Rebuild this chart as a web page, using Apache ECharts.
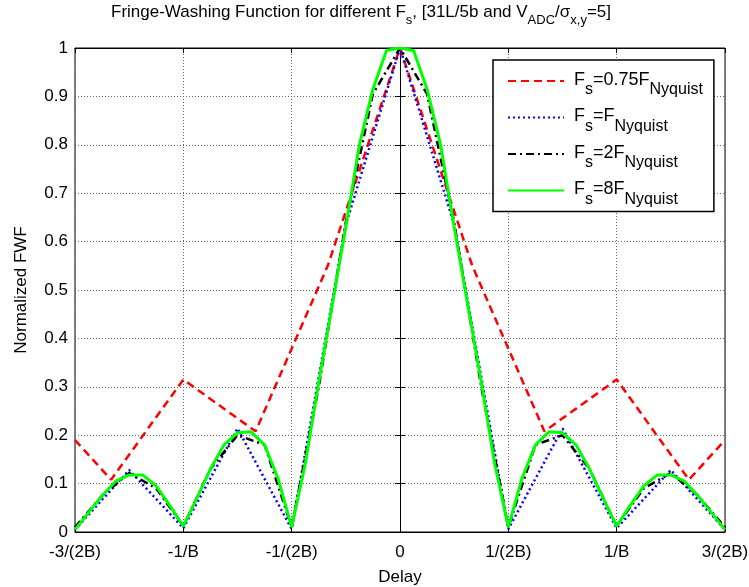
<!DOCTYPE html>
<html>
<head>
<meta charset="utf-8">
<script src="https://cdn.jsdelivr.net/npm/echarts@6/dist/echarts.min.js"></script>
<style>
  html, body { margin: 0; padding: 0; background: #fff; }
  #chart { width: 749px; height: 587px; }
</style>
</head>
<body>
<div id="chart"></div>
<script>
// delay axis in units of 1/(2B)
var xTicks = [-3, -2, -1, 0, 1, 2, 3];
var xTickLabels = ['-3/(2B)', '-1/B', '-1/(2B)', '0', '1/(2B)', '1/B', '3/(2B)'];

// Fs = 0.75 FNyquist
var redX = [-3, -2.667, -2, -1.333, -0.667, 0, 0.667, 1.333, 2, 2.667, 3];
var redY = [0.19, 0.108, 0.315, 0.208, 0.55, 1.0, 0.55, 0.208, 0.315, 0.108, 0.19];

// Fs = FNyquist
var blueX = [-3, -2.5, -2, -1.5, -1, -0.5, 0, 0.5, 1, 1.5, 2, 2.5, 3];
var blueY = [0.005, 0.128, 0.008, 0.214, 0.006, 0.635, 1.0, 0.635, 0.006, 0.214, 0.008, 0.128, 0.005];

// Fs = 2 FNyquist
var blackX = [-3, -2.75, -2.5, -2.25, -2, -1.75, -1.5, -1.25, -1, -0.75, -0.5, -0.25, 0,
              0.25, 0.5, 0.75, 1, 1.25, 1.5, 1.75, 2, 2.25, 2.5, 2.75, 3];
var blackY = [0.01, 0.075, 0.122, 0.09, 0.012, 0.13, 0.2, 0.18, 0.01, 0.3, 0.64, 0.905, 1.0,
              0.905, 0.64, 0.3, 0.01, 0.18, 0.2, 0.13, 0.012, 0.09, 0.122, 0.075, 0.01];

// Fs = 8 FNyquist
var greenX = [-3, -2.875, -2.75, -2.625, -2.5, -2.375, -2.25, -2.125, -2, -1.875, -1.75, -1.625, -1.5,
              -1.375, -1.25, -1.125, -1, -0.875, -0.75, -0.625, -0.5, -0.375, -0.25, -0.125, 0,
              0.125, 0.25, 0.375, 0.5, 0.625, 0.75, 0.875, 1, 1.125, 1.25, 1.375, 1.5,
              1.625, 1.75, 1.875, 2, 2.125, 2.25, 2.375, 2.5, 2.625, 2.75, 2.875, 3];
var greenY = [0.005, 0.04, 0.075, 0.105, 0.118, 0.118, 0.095, 0.055, 0.012, 0.07, 0.13, 0.18, 0.205,
              0.207, 0.18, 0.11, 0.01, 0.14, 0.31, 0.47, 0.63, 0.8, 0.915, 0.995, 1.0,
              0.995, 0.915, 0.8, 0.63, 0.47, 0.31, 0.14, 0.01, 0.11, 0.18, 0.207, 0.205,
              0.18, 0.13, 0.07, 0.012, 0.055, 0.095, 0.118, 0.118, 0.105, 0.075, 0.04, 0.005];

var seriesNames = ['red', 'blue', 'black', 'green'];
var legendLabels = ['0.75F', 'F', '2F', '8F'];

function pairs(xs, ys) {
    var out = [];
    for (var i = 0; i < xs.length; i++) out.push([xs[i], ys[i]]);
    return out;
}

var font = 'Liberation Sans, Arial, sans-serif';
var fs = 17;
function makeRich(mainSize, subSize, drop) {
    return {
        f: { fontSize: mainSize, fontFamily: font, color: '#000', fontWeight: 'normal',
             lineHeight: 20, verticalAlign: 'top', padding: [0, 0, 0, 5] },
        n: { fontSize: mainSize, fontFamily: font, color: '#000', fontWeight: 'normal',
             lineHeight: 20, verticalAlign: 'top' },
        s: { fontSize: subSize, fontFamily: font, color: '#000', fontWeight: 'normal',
             lineHeight: 14, padding: [drop, 0, 0, 0], verticalAlign: 'top' }
    };
}

var myChart = echarts.init(document.getElementById('chart'), null, { renderer: 'canvas' });

var gridLine = { show: true, lineStyle: { color: '#666', type: [1, 2], width: 1 } };
var tickStyle = { show: true, inside: true, length: 5, lineStyle: { color: '#000' } };

var option = {
    animation: false,
    backgroundColor: '#fff',
    title: {
        text: '{n|Fringe-Washing Function for different F}{s|s}{n|, [31L/5b and V}{s|ADC}{n|/σ}{s|x,y}{n|=5]}',
        left: 111,
        top: 4,
        padding: 0,
        textStyle: { rich: makeRich(fs, 13, 10) }
    },
    grid: {
        left: 75, right: 24, top: 48, bottom: 55,
        outerBoundsMode: 'none',
        show: true, borderColor: '#000', borderWidth: 1
    },
    legend: {
        orient: 'vertical',
        left: 493, top: 60,
        padding: [11, 11, 4, 14],
        itemGap: 9.5,
        itemWidth: 56,
        itemHeight: 14,
        borderColor: '#000', borderWidth: 1.5,
        backgroundColor: '#fff',
        itemStyle: { opacity: 0 },
        data: seriesNames,
        formatter: function (name) {
            var i = seriesNames.indexOf(name);
            return '{f|F}{s|s}{n|=' + legendLabels[i] + '}{s|Nyquist}';
        },
        textStyle: { rich: makeRich(18, 16, 11) }
    },
    xAxis: [{
        type: 'value',
        min: -3, max: 3, interval: 1,
        name: 'Delay',
        nameLocation: 'middle',
        nameGap: 37,
        nameTextStyle: { fontSize: fs, fontFamily: font, color: '#000' },
        axisLine: { onZero: false, lineStyle: { color: '#000' } },
        axisTick: tickStyle,
        axisLabel: {
            fontSize: fs, fontFamily: font, color: '#000', margin: 12,
            formatter: function (v) {
                var i = xTicks.indexOf(Math.round(v));
                return i >= 0 ? xTickLabels[i] : '';
            }
        },
        splitLine: gridLine
    }, {
        type: 'value', position: 'top',
        min: -3, max: 3, interval: 1,
        axisLine: { onZero: false, lineStyle: { color: '#000' } },
        axisTick: tickStyle,
        axisLabel: { show: false },
        splitLine: { show: false }
    }],
    yAxis: [{
        type: 'value',
        min: 0, max: 1, interval: 0.1,
        name: 'Normalized FWF',
        nameLocation: 'middle',
        nameGap: 45,
        nameTextStyle: { fontSize: fs, fontFamily: font, color: '#000' },
        axisLine: { show: true, lineStyle: { color: '#000' } },
        axisTick: tickStyle,
        axisLabel: {
            fontSize: fs, fontFamily: font, color: '#000', margin: 7,
            formatter: function (v) { return String(Math.round(v * 10) / 10); }
        },
        splitLine: gridLine
    }, {
        type: 'value', position: 'right',
        min: 0, max: 1, interval: 0.1,
        axisLine: { show: true, lineStyle: { color: '#000' } },
        axisTick: tickStyle,
        axisLabel: { show: false },
        splitLine: { show: false }
    }],
    series: [
        {
            name: 'red', type: 'line', symbol: 'none',
            data: pairs(redX, redY),
            lineStyle: { color: '#ff0000', width: 2.5, type: [8, 5] },
            itemStyle: { color: '#ff0000' }
        },
        {
            name: 'blue', type: 'line', symbol: 'none',
            data: pairs(blueX, blueY),
            lineStyle: { color: '#0000ff', width: 2.5, type: [2, 3] },
            itemStyle: { color: '#0000ff' }
        },
        {
            name: 'black', type: 'line', symbol: 'none',
            data: pairs(blackX, blackY),
            lineStyle: { color: '#000000', width: 2.5, type: [8, 4, 2, 4] },
            itemStyle: { color: '#000000' }
        },
        {
            name: 'green', type: 'line', symbol: 'none',
            data: pairs(greenX, greenY),
            lineStyle: { color: '#00ff00', width: 3 },
            itemStyle: { color: '#00ff00' }
        }
    ]
};

myChart.setOption(option);
</script>
</body>
</html>
